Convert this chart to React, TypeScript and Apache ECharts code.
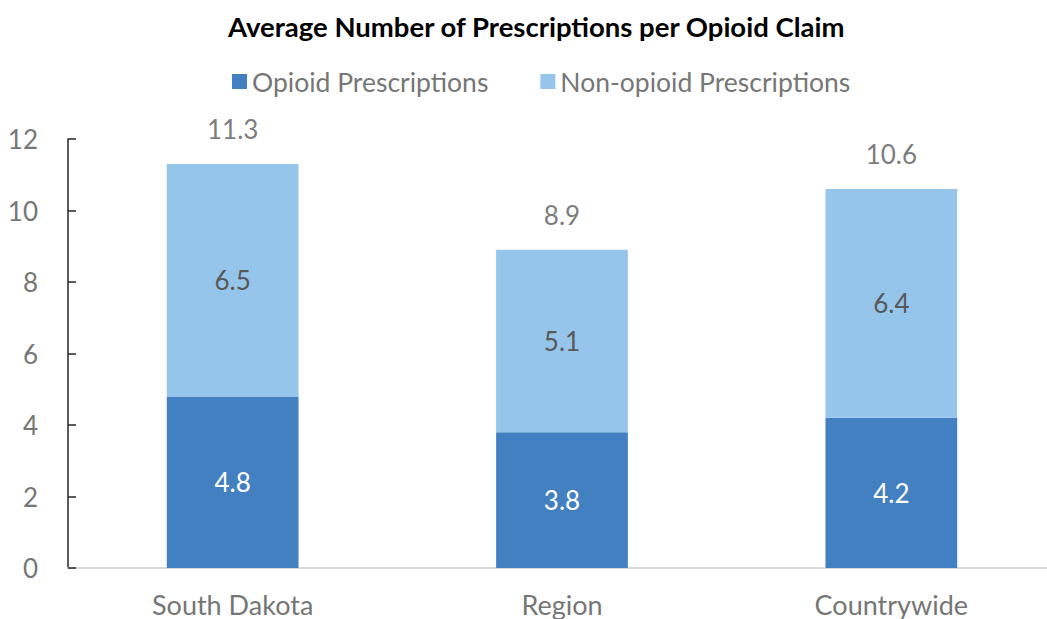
import React, { useEffect, useRef } from "react";
import * as echarts from "echarts";

const categories = ["South Dakota", "Region", "Countrywide"];
const opioid = [4.8, 3.8, 4.2];
const nonOpioid = [6.5, 5.1, 6.4];
const totals = [11.3, 8.9, 10.6];
const yTicks = { min: 0, max: 12, interval: 2 };

const FONT = "Lato";

export default function App() {
  const ref = useRef<HTMLDivElement>(null);
  useEffect(() => {
    if (!ref.current) return;
    const chart = echarts.init(ref.current, null, { renderer: "svg" });
    chart.setOption({
      animation: false,
      textStyle: { fontFamily: FONT },
      title: {
        text: "Average Number of Prescriptions per Opioid Claim",
        left: 223,
        top: 7,
        textStyle: { fontFamily: FONT, fontWeight: "bold", fontSize: 27.5, color: "#000" },
      },
      legend: {
        left: 232,
        top: 68,
        padding: 0,
        icon: "rect",
        itemWidth: 15,
        itemHeight: 15,
        itemGap: 52,
        textStyle: { fontFamily: FONT, fontSize: 26.5, color: "#767676", padding: [0, 0, 0, 0] },
        data: ["Opioid Prescriptions", "Non-opioid Prescriptions"],
      },
      grid: { left: 68, top: 139, width: 988, height: 429, outerBoundsMode: "none" },
      xAxis: {
        type: "category",
        data: categories,
        axisLine: { lineStyle: { color: "#d9d9d9", width: 2 } },
        axisTick: { show: false },
        axisLabel: { fontFamily: FONT, fontSize: 27, color: "#767676", margin: 23 },
      },
      yAxis: {
        type: "value",
        min: yTicks.min,
        max: yTicks.max,
        interval: yTicks.interval,
        axisLine: { show: true, lineStyle: { color: "#262626", width: 1.5 } },
        axisTick: { show: true, inside: true, length: 8, lineStyle: { color: "#262626", width: 1.5 } },
        splitLine: { show: false },
        axisLabel: { fontFamily: FONT, fontSize: 26, color: "#767676", margin: 30 },
      },
      series: [
        {
          name: "Opioid Prescriptions",
          type: "bar",
          stack: "total",
          barWidth: "40%",
          data: opioid,
          itemStyle: { color: "#4280C2" },
          label: {
            show: true,
            position: "inside",
            color: "#ffffff",
            fontFamily: FONT,
            fontSize: 26,
            formatter: (p: any) => p.value.toFixed(1),
          },
        },
        {
          name: "Non-opioid Prescriptions",
          type: "bar",
          stack: "total",
          barWidth: "40%",
          data: nonOpioid,
          itemStyle: { color: "#95C5EB" },
          label: {
            show: true,
            position: "inside",
            color: "#595959",
            fontFamily: FONT,
            fontSize: 26,
            formatter: (p: any) => p.value.toFixed(1),
          },
        },
        {
          name: "Total",
          type: "scatter",
          symbolSize: 0,
          data: totals,
          silent: true,
          label: {
            show: true,
            position: "top",
            distance: 22,
            color: "#595959",
            fontFamily: FONT,
            fontSize: 26,
            formatter: (p: any) => p.value.toFixed(1),
          },
        },
      ],
    });
    return () => chart.dispose();
  }, []);
  return (
    <div
      ref={ref}
      style={{ position: "absolute", left: 0, top: 0, width: 1047, height: 619, background: "#fff" }}
    />
  );
}
